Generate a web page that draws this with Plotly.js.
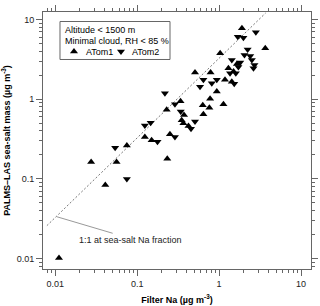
<!DOCTYPE html>
<html>
<head>
<meta charset="utf-8">
<script src="https://cdn.plot.ly/plotly-3.0.1.min.js"></script>
<style>html,body{margin:0;padding:0;background:#fff;}#chart{width:320px;height:306px;}</style>
</head>
<body>
<div id="chart"></div>
<script>
// ATom1 (triangle up): filter Na vs PALMS-LAS sea-salt mass (µg m-3)
const atom1Na   = [1.90, 3.66, 1.03, 1.65, 1.30, 1.50, 1.18, 1.43, 0.508, 0.787, 0.937, 0.776, 0.338, 0.632, 0.761, 1.13, 0.229, 0.643, 0.373, 0.349, 0.366, 0.423, 0.251, 0.124, 0.150, 0.0748, 0.0274, 0.056, 0.0408, 0.233, 0.0111];
const atom1Mass = [7.78, 4.36, 3.78, 2.77, 2.45, 2.22, 1.75, 1.66, 2.17, 2.17, 1.25, 1.01, 0.944, 0.836, 0.778, 0.866, 0.734, 0.648, 0.635, 0.542, 0.497, 0.462, 0.362, 0.334, 0.304, 0.261, 0.163, 0.163, 0.0834, 0.179, 0.0101];
// ATom2 (triangle down)
const atom2Na   = [1.69, 1.98, 2.81, 2.23, 2.04, 2.40, 2.51, 2.70, 2.63, 1.81, 1.43, 1.72, 1.36, 1.60, 1.53, 0.937, 0.643, 0.814, 0.585, 0.218, 0.289, 0.340, 0.508, 0.454, 0.289, 0.124, 0.146, 0.177, 0.0538, 0.0748];
const atom2Mass = [6.10, 5.93, 6.93, 4.22, 3.60, 3.49, 3.11, 2.69, 2.45, 2.88, 3.11, 2.54, 2.12, 2.12, 1.56, 1.75, 1.75, 1.59, 1.43, 1.19, 0.866, 0.699, 0.524, 0.424, 0.336, 0.466, 0.504, 0.291, 0.245, 0.0994];
// 1:1 line at sea-salt Na fraction
const naFraction = 0.306;
const lineNa = [0.0079, 3.7];
const lineMass = lineNa.map(v => v / naFraction);
const tickVals = [0.01, 0.1, 1, 10];
const tickText = ['0.01', '0.1', '1', '10'];
const boxLines = ['Altitude < 1500 m', 'Minimal cloud, RH < 85 %'];
const seriesNames = ['ATom1', 'ATom2'];
const lineLabel = '1:1 at sea-salt Na fraction';

const FONT = 'Arial, "Liberation Sans", sans-serif';
const axisCommon = {
  type: 'log', showgrid: false, zeroline: false,
  showline: true, linecolor: '#666', linewidth: 1, mirror: 'allticks',
  ticks: 'outside', ticklen: 6, tickwidth: 1, tickcolor: '#666',
  tickvals: tickVals, ticktext: tickText,
  tickfont: {family: FONT, size: 9, color: '#222'},
  minor: {ticks: 'outside', ticklen: 3, tickwidth: 1, tickcolor: '#666', dtick: 'D1', showgrid: false}
};

const traces = [
  {x: lineNa, y: lineMass, mode: 'lines', line: {color: '#777', width: 1, dash: '2px,2px'}, showlegend: false, hoverinfo: 'skip'},
  {x: atom1Na, y: atom1Mass, mode: 'markers', name: '', legend: 'legend', marker: {symbol: 'triangle-up', size: 7, color: '#000'}},
  {x: atom2Na, y: atom2Mass, mode: 'markers', name: '', legend: 'legend2', marker: {symbol: 'triangle-down', size: 7, color: '#000'}}
];

const legendCommon = {
  xanchor: 'left', yanchor: 'middle', orientation: 'h',
  bgcolor: 'rgba(0,0,0,0)', borderwidth: 0,
  font: {family: FONT, size: 9, color: '#000'},
  itemwidth: 30
};

const txt = (x, y, t, c) => ({xref: 'paper', yref: 'paper', x: x, y: y, xanchor: 'left', yanchor: 'middle',
  showarrow: false, text: t, font: {family: FONT, size: 9, color: c || '#000'}});

const layout = {
  width: 320, height: 306,
  margin: {l: 43, r: 9, t: 12, b: 37},
  paper_bgcolor: '#fff', plot_bgcolor: '#fff',
  font: {family: FONT, size: 9, color: '#000'},
  xaxis: Object.assign({}, axisCommon, {
    range: [-2.150, 1.122],
    title: {text: '<b>Filter Na (µg m<sup>-3</sup>)</b>', font: {family: FONT, size: 9, color: '#000'}, standoff: 8}
  }),
  yaxis: Object.assign({}, axisCommon, {
    range: [-2.133, 1.095],
    title: {text: '<b>PALMS–LAS sea-salt mass (µg m<sup>-3</sup>)</b>', font: {family: FONT, size: 9, color: '#000'}, standoff: 6}
  }),
  showlegend: true,
  legend: Object.assign({}, legendCommon, {x: 0.041, y: 0.8463}),
  legend2: Object.assign({}, legendCommon, {x: 0.2164, y: 0.8463}),
  shapes: [
    {type: 'rect', xref: 'paper', yref: 'paper', x0: 0.0634, x1: 0.4739, y0: 0.8152, y1: 0.963,
     line: {color: '#666', width: 1}, fillcolor: 'rgba(255,255,255,0)', layer: 'below'},
    {type: 'line', xref: 'paper', yref: 'paper', x0: 0.0511, y0: 0.2035, x1: 0.260, y1: 0.139,
     line: {color: '#999', width: 1}}
  ],
  annotations: [
    txt(0.0746, 0.9319, boxLines[0]),
    txt(0.0746, 0.8891, boxLines[1]),
    txt(0.153, 0.8463, seriesNames[0]),
    txt(0.3246, 0.8463, seriesNames[1]),
    txt(0.1269, 0.1128, lineLabel, '#222')
  ]
};

Plotly.newPlot('chart', traces, layout, {displayModeBar: false, staticPlot: true});
</script>
</body>
</html>
